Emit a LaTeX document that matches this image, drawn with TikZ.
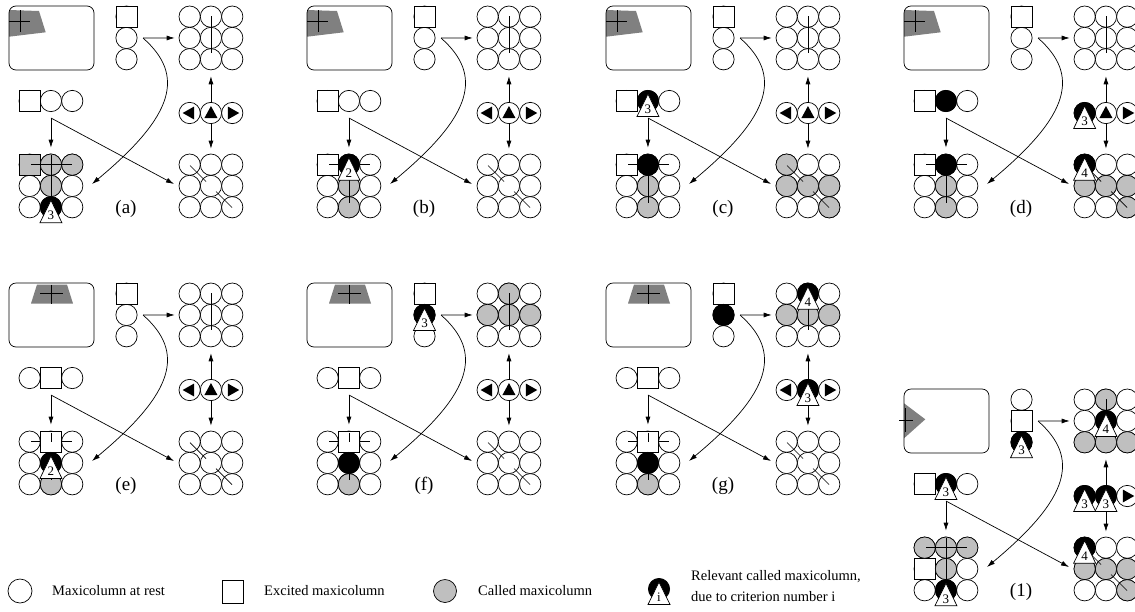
\documentclass[tikz,border=0pt]{standalone}
\usepackage{fontspec}
\setmainfont{Liberation Serif}
\usetikzlibrary{arrows.meta}

\definecolor{calledgray}{gray}{0.75}
\definecolor{spotgray}{gray}{0.5}

\tikzset{
  cell/.style={circle, draw, line width=0.7pt, fill=white, minimum size=21.3pt, inner sep=0pt},
  called/.style={cell, fill=calledgray},
  busy/.style={cell, fill=black},
  excited/.style={rectangle, draw, line width=0.7pt, fill=white, minimum size=21.3pt, inner sep=0pt},
  screen/.style={draw, line width=0.7pt, rounded corners=7pt},
  wire/.style={line width=0.7pt},
  link/.style={line width=0.7pt, -{Latex[length=8pt, width=5pt]}},
  tri/.style={draw, fill=white, line width=0.7pt},
  crit/.style={font=\fontsize{13}{13}\selectfont, inner sep=0pt},
  lab/.style={font=\fontsize{19}{19}\selectfont, inner sep=0pt},
  key/.style={font=\fontsize{14.5}{15}\selectfont, anchor=west, inner sep=0pt},
}

% the screen with its grey spot and the fixation cross
\newcommand{\screenbox}[2]{%
  \begin{scope}
    \clip[rounded corners=7pt] (9,6) rectangle (94,70);
    \fill[spotgray] #1;
  \end{scope}
  \draw[screen] (9,6) rectangle (94,70);
  \draw[wire] #2;
}
\newcommand{\spotcorner}{\screenbox{(9,10) -- (39,11) -- (45.7,32.3) -- (9,36.7) -- cycle}{(9,21) -- (30,21) (20,10) -- (20,32)}}
\newcommand{\spottop}{\screenbox{(37,7.5) -- (67,7.5) -- (73,26.5) -- (31,26.5) -- cycle}{(40,16.5) -- (62.7,16.5) (51.7,7.5) -- (51.7,26.5)}}
\newcommand{\spotleft}{\screenbox{(9,20.3) -- (30.3,36.3) -- (9,55.3) -- cycle}{(4.3,37) -- (17.7,37) (10.3,25) -- (10.3,48.7)}}

% cells
\newcommand{\dircell}[3]{\node[cell] (#1) at (#2) {}; \fill (#1.center) #3;}
\newcommand{\relevant}[2]{%
  \node[busy] (#1-r) at (#1) {};
  \draw[tri] (#1-r.center) ++(0,-7) -- ++(11,22.5) -- ++(-22,0) -- cycle;
  \node[crit] (#1-i) at ([yshift=-8.5pt]#1-r.center) {#2};
}
\newcommand{\called}[1]{\node[called] (#1-c) at (#1) {};}
\newcommand{\busycell}[1]{\node[busy] (#1-b) at (#1) {};}
\newcommand{\excite}[1]{\node[excited] (#1-s) at (#1) {};}

% lines across the grids
\newcommand{\wires}{%
  \draw[wire] (31,164.65) -- (72,164.65) (50.95,155) -- (50.95,203);
  \draw[wire] (210.95,16) -- (210.95,53);
  \draw[wire] (190,165.5) -- (206,181.5) (216,191.5) -- (232,207.5);
}

% one panel: cells at rest, arrows, label
\newcommand{\panelbase}[3]{%
  #2
  \foreach \rw in {0,1,2} {
    \node[cell] (#1-col-\rw) at (126.5,16.65+21.3*\rw) {};
    \node[cell] (#1-lr-\rw) at (29.65+21.3*\rw,101) {};
    \foreach \cl in {0,1,2} {
      \node[cell] (#1-tr-\rw-\cl) at (189.65+21.3*\cl,16.65+21.3*\rw) {};
      \node[cell] (#1-bl-\rw-\cl) at (29.65+21.3*\cl,164.65+21.3*\rw) {};
      \node[cell] (#1-br-\rw-\cl) at (189.65+21.3*\cl,164.65+21.3*\rw) {};
    }
  }
  \dircell{#1-dir-0}{189.65,113}{++(-7,0) -- ++(11.5,-6.5) -- ++(0,13) -- cycle}
  \dircell{#1-dir-1}{210.95,113}{++(0,-7) -- ++(6.5,12) -- ++(-13,0) -- cycle}
  \dircell{#1-dir-2}{232.25,113}{++(7,0) -- ++(-11.5,-6.5) -- ++(0,13) -- cycle}
  \coordinate (#1-fork) at (143,38);
  \coordinate (#1-blin) at (92,184);
  \coordinate (#1-split) at (50.95,118);
  \coordinate (#1-brin) at (174,184);
  \draw[link, shorten >=6pt] (#1-dir-1) -- (#1-tr-2-1);
  \draw[link, shorten >=5pt] (#1-dir-1) -- (#1-br-0-1);
  \draw[link, shorten >=4pt] (#1-fork) -- (#1-tr-1-0);
  \draw[link] (#1-fork) .. controls (185,75) and (175,115) .. (#1-blin);
  \draw[link, shorten >=6pt] (#1-split) -- (#1-bl-0-1);
  \draw[link] (#1-split) -- (#1-brin);
  \node[lab] (#1-label) at (126,209) {#3};
}

\begin{document}
\begin{tikzpicture}[x=1pt, y=-1pt]
  \useasboundingbox (0,0) rectangle (1135,611);

  % (a)
  \begin{scope}[shift={(0,0)}]
    \panelbase{a}{\spotcorner}{(a)}
    \excite{a-col-0} \excite{a-lr-0}
    \node[excited, fill=calledgray] (a-bl-0-0-s) at (a-bl-0-0) {};
    \called{a-bl-0-1} \called{a-bl-0-2} \called{a-bl-1-1}
    \wires
    \relevant{a-bl-2-1}{3}
  \end{scope}

  % (b)
  \begin{scope}[shift={(298,0)}]
    \panelbase{b}{\spotcorner}{(b)}
    \excite{b-col-0} \excite{b-lr-0} \excite{b-bl-0-0}
    \called{b-bl-1-1} \called{b-bl-2-1}
    \wires
    \relevant{b-bl-0-1}{2}
  \end{scope}

  % (c)
  \begin{scope}[shift={(597,0)}]
    \panelbase{c}{\spotcorner}{(c)}
    \excite{c-col-0} \excite{c-lr-0} \excite{c-bl-0-0}
    \called{c-bl-1-1} \called{c-bl-2-1}
    \called{c-br-0-0} \called{c-br-1-0} \called{c-br-1-1} \called{c-br-1-2} \called{c-br-2-2}
    \wires
    \busycell{c-bl-0-1}
    \relevant{c-lr-1}{3}
  \end{scope}

  % (d)
  \begin{scope}[shift={(895,0)}]
    \panelbase{d}{\spotcorner}{(d)}
    \excite{d-col-0} \excite{d-lr-0} \excite{d-bl-0-0}
    \called{d-bl-1-1} \called{d-bl-2-1}
    \called{d-br-1-0} \called{d-br-1-1} \called{d-br-1-2} \called{d-br-2-2}
    \wires
    \busycell{d-lr-1} \busycell{d-bl-0-1}
    \relevant{d-dir-0}{3}
    \relevant{d-br-0-0}{4}
  \end{scope}

  % (e)
  \begin{scope}[shift={(0,277)}]
    \panelbase{e}{\spottop}{(e)}
    \excite{e-col-0} \excite{e-lr-1}
    \called{e-bl-2-1}
    \wires
    \excite{e-bl-0-1}
    \draw[wire] (50.95,155.5) -- (50.95,164.65);
    \relevant{e-bl-1-1}{2}
  \end{scope}

  % (f)
  \begin{scope}[shift={(298,277)}]
    \panelbase{f}{\spottop}{(f)}
    \excite{f-col-0} \excite{f-lr-1}
    \called{f-bl-2-1}
    \called{f-tr-0-1} \called{f-tr-1-0} \called{f-tr-1-1} \called{f-tr-1-2}
    \wires
    \excite{f-bl-0-1}
    \draw[wire] (50.95,155.5) -- (50.95,164.65);
    \busycell{f-bl-1-1}
    \relevant{f-col-1}{3}
  \end{scope}

  % (g)
  \begin{scope}[shift={(597,277)}]
    \panelbase{g}{\spottop}{(g)}
    \excite{g-col-0} \excite{g-lr-1}
    \called{g-bl-2-1}
    \called{g-tr-1-0} \called{g-tr-1-1} \called{g-tr-1-2}
    \wires
    \excite{g-bl-0-1}
    \draw[wire] (50.95,155.5) -- (50.95,164.65);
    \busycell{g-bl-1-1} \busycell{g-col-1}
    \relevant{g-tr-0-1}{4}
    \relevant{g-dir-1}{3}
  \end{scope}

  % (1)
  \begin{scope}[shift={(895,383)}]
    \panelbase{p}{\spotleft}{(1)}
    \excite{p-col-1} \excite{p-lr-0} \excite{p-bl-1-0}
    \called{p-bl-0-0} \called{p-bl-0-1} \called{p-bl-0-2} \called{p-bl-1-1}
    \called{p-tr-0-1} \called{p-tr-2-0} \called{p-tr-2-1} \called{p-tr-2-2}
    \called{p-br-1-0} \called{p-br-1-1} \called{p-br-1-2} \called{p-br-2-2}
    \wires
    \relevant{p-col-2}{3}
    \relevant{p-lr-1}{3}
    \relevant{p-bl-2-1}{3}
    \relevant{p-tr-1-1}{4}
    \relevant{p-dir-0}{3}
    \relevant{p-dir-1}{3}
    \relevant{p-br-0-0}{4}
  \end{scope}

  % legend
  \node[cell, minimum size=24pt] (key-rest) at (20,591) {};
  \node[key] (key-rest-t) at (52,591) {Maxicolumn at rest};
  \node[excited, minimum width=21pt, minimum height=23pt] (key-exc) at (232.5,591.5) {};
  \node[key] (key-exc-t) at (264,591) {Excited maxicolumn};
  \node[called, minimum size=23pt] (key-call) at (445,591) {};
  \node[key] (key-call-t) at (478,591) {Called maxicolumn};
  \coordinate (key-rel) at (659,589);
  \relevant{key-rel}{i}
  \node[key] (key-rel-t1) at (691,577) {Relevant called maxicolumn,};
  \node[key] (key-rel-t2) at (691,597) {due to criterion number i};
\end{tikzpicture}
\end{document}
